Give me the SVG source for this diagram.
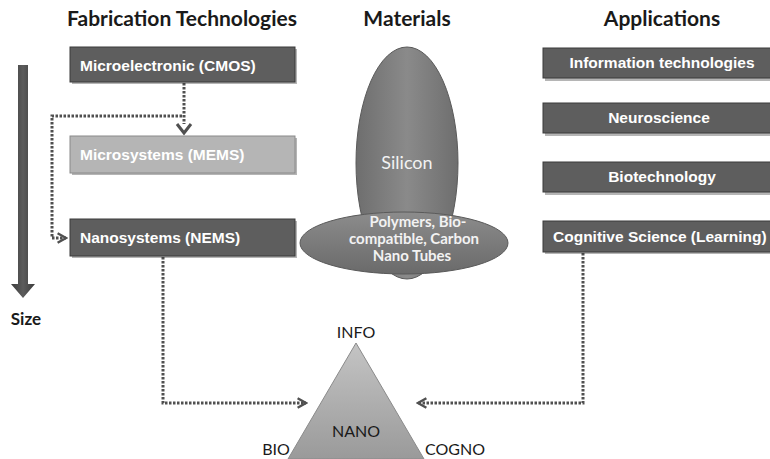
<svg xmlns="http://www.w3.org/2000/svg" width="770" height="459" viewBox="0 0 770 459">
  <style>
    .head { font-family: Lato, "Open Sans", sans-serif; font-weight: bold; font-size: 21px; fill: #1a1a1a; text-anchor: middle; }
    .box { fill: #5e5e5e; stroke: #3a3a3a; stroke-width: 1; }
    .boxlight { fill: #b5b5b5; stroke: #8a8a8a; stroke-width: 1; }
    .shadow { fill: #2a2a2a; opacity: 0.35; }
    .btxt { font-family: "Liberation Sans", Arial, sans-serif; font-weight: bold; font-size: 15.5px; fill: #ffffff; }
    .ctxt { text-anchor: middle; }
    .mat { font-family: Lato, "Open Sans", sans-serif; fill: #f2f2f2; text-anchor: middle; }
    .lab { font-family: Lato, "Open Sans", sans-serif; font-size: 16px; fill: #1a1a1a; text-anchor: middle; }
    .dot { fill: none; stroke: #505050; stroke-width: 3; stroke-dasharray: 2.5 1.5; }
  </style>
  <defs>
    <marker id="open" viewBox="0 0 10 10" refX="8" refY="5" markerWidth="4" markerHeight="4" orient="auto" markerUnits="strokeWidth">
      <path d="M1,1 L8,5 L1,9" fill="none" stroke="#505050" stroke-width="2"/>
    </marker>
    <linearGradient id="siGrad" x1="0" y1="0" x2="1" y2="0">
      <stop offset="0" stop-color="#6e6e6e"/>
      <stop offset="0.5" stop-color="#8a8a8a"/>
      <stop offset="1" stop-color="#6e6e6e"/>
    </linearGradient>
    <linearGradient id="polyGrad" x1="0" y1="0" x2="0" y2="1">
      <stop offset="0" stop-color="#8c8c8c"/>
      <stop offset="1" stop-color="#6a6a6a"/>
    </linearGradient>
    <linearGradient id="triGrad" x1="0" y1="0" x2="0" y2="1">
      <stop offset="0" stop-color="#c4c4c4"/>
      <stop offset="1" stop-color="#9a9a9a"/>
    </linearGradient>
    <linearGradient id="sizeGrad" x1="0" y1="0" x2="1" y2="0">
      <stop offset="0" stop-color="#3c3c3c"/>
      <stop offset="0.5" stop-color="#5c5c5c"/>
      <stop offset="1" stop-color="#3c3c3c"/>
    </linearGradient>
  </defs>

  <rect width="770" height="459" fill="#ffffff"/>

  <!-- column headings -->
  <text class="head" x="182" y="26">Fabrication Technologies</text>
  <text class="head" x="407" y="26">Materials</text>
  <text class="head" x="662" y="26">Applications</text>

  <!-- size axis -->
  <g id="size-axis">
    <path d="M18,65 L28,65 L28,284 L35,284 L23,298 L11,284 L18,284 Z" fill="url(#sizeGrad)"/>
    <text x="26" y="325" font-family="Lato, 'Open Sans', sans-serif" font-weight="bold" font-size="17" fill="#1a1a1a" text-anchor="middle">Size</text>
  </g>

  <!-- connectors -->
  <g id="connectors">
    <line x1="184" y1="83" x2="184" y2="124" stroke="#505050" stroke-width="3" stroke-dasharray="2.5 1.5"/>
    <path d="M177,124 L184,133 L191,124" fill="none" stroke="#505050" stroke-width="3"/>
    <path class="dot" d="M182,116 L52,116 L52,238 L66,238" marker-end="url(#open)"/>
    <path class="dot" d="M163,257 L163,403 L306,403" marker-end="url(#open)"/>
    <path class="dot" d="M583,253 L583,403 L418,403" marker-end="url(#open)"/>
  </g>

  <!-- fabrication technologies -->
  <g id="cmos">
    <rect class="shadow" x="72" y="49" width="225" height="35"/>
    <rect class="box" x="70" y="47" width="225" height="35"/>
    <text class="btxt" x="80" y="71">Microelectronic (CMOS)</text>
  </g>
  <g id="mems">
    <rect class="shadow" x="72" y="138" width="225" height="37"/>
    <rect class="boxlight" x="70" y="136" width="225" height="37"/>
    <text class="btxt" x="80" y="160">Microsystems (MEMS)</text>
  </g>
  <g id="nems">
    <rect class="shadow" x="72" y="221" width="225" height="37"/>
    <rect class="box" x="70" y="219" width="225" height="37"/>
    <text class="btxt" x="80" y="243">Nanosystems (NEMS)</text>
  </g>

  <!-- materials -->
  <g id="silicon">
    <ellipse cx="407" cy="163" rx="51" ry="116" fill="url(#siGrad)" stroke="#5a5a5a" stroke-width="1"/>
    <text class="mat" x="407" y="169" font-size="18">Silicon</text>
  </g>
  <g id="polymers">
    <ellipse cx="404" cy="243" rx="104" ry="31" fill="url(#polyGrad)" stroke="#5a5a5a" stroke-width="1"/>
    <text class="mat" x="418" y="227" font-size="15" font-weight="bold">Polymers, Bio-</text>
    <text class="mat" x="414" y="244" font-size="15" font-weight="bold">compatible, Carbon</text>
    <text class="mat" x="412" y="261" font-size="15" font-weight="bold">Nano Tubes</text>
  </g>

  <!-- applications -->
  <g id="info-tech">
    <rect class="shadow" x="545" y="50" width="230" height="31"/>
    <rect class="box" x="543" y="48" width="232" height="30"/>
    <text class="btxt ctxt" x="662" y="68">Information technologies</text>
  </g>
  <g id="neuroscience">
    <rect class="shadow" x="545" y="105" width="230" height="31"/>
    <rect class="box" x="543" y="103" width="232" height="30"/>
    <text class="btxt ctxt" x="659" y="123">Neuroscience</text>
  </g>
  <g id="biotechnology">
    <rect class="shadow" x="545" y="164" width="230" height="31"/>
    <rect class="box" x="543" y="162" width="232" height="30"/>
    <text class="btxt ctxt" x="662" y="182">Biotechnology</text>
  </g>
  <g id="cognitive">
    <rect class="shadow" x="545" y="223" width="230" height="31"/>
    <rect class="box" x="543" y="221" width="232" height="31"/>
    <text class="btxt" x="553" y="242">Cognitive Science (Learning)</text>
  </g>

  <!-- convergence triangle -->
  <g id="nano">
    <polygon points="356,343 288,459 424,459" fill="url(#triGrad)" stroke="#8a8a8a" stroke-width="1"/>
    <text class="lab" x="356" y="437">NANO</text>
    <text class="lab" x="356" y="338">INFO</text>
    <text class="lab" x="276" y="455">BIO</text>
    <text class="lab" x="455" y="455">COGNO</text>
  </g>
</svg>
